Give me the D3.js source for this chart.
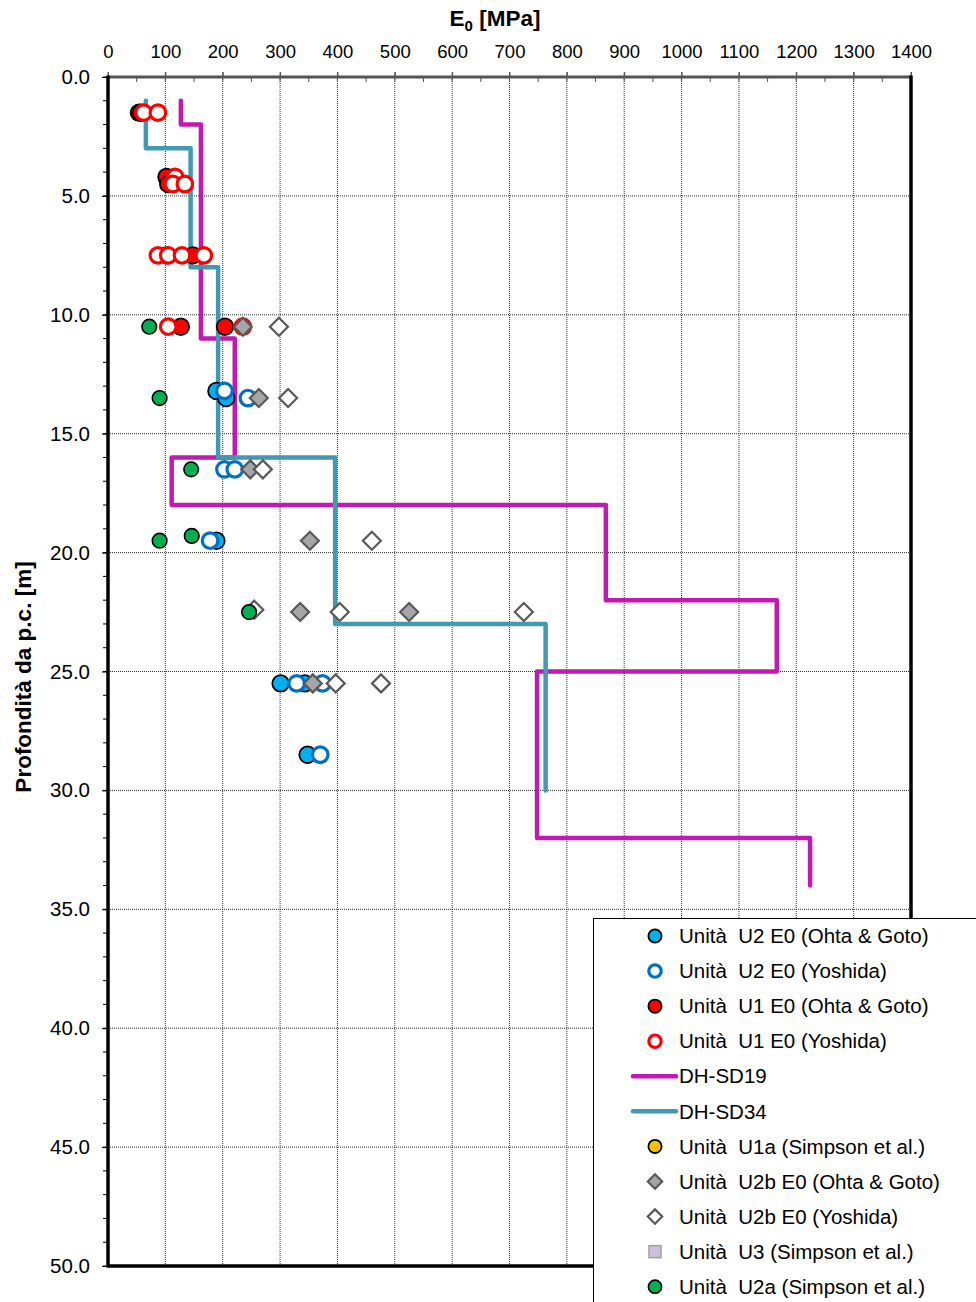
<!DOCTYPE html>
<html>
<head>
<meta charset="utf-8">
<script src="https://cdn.jsdelivr.net/npm/d3@7"></script>
<style>
  html, body { margin: 0; padding: 0; background: #fff; }
  svg { display: block; font-family: "Liberation Sans", Arial, sans-serif; }
</style>
</head>
<body>
<svg id="chart" width="976" height="1302"></svg>
<script>
// ---- data (E0 [MPa], depth [m]) ----
const xTicks = [0,100,200,300,400,500,600,700,800,900,1000,1100,1200,1300,1400];
const yTicks = [0,5,10,15,20,25,30,35,40,45,50];

const u2Ohta = [[189,13.2],[206,13.5],[189,19.5],[301,25.5],[343,25.5],[348,28.5]];
const u2Yoshida = [[203,13.2],[244,13.5],[203,16.5],[221,16.5],[178,19.5],[329,25.5],[374,25.5],[370,28.5]];
const u1Ohta = [[54,1.5],[58,1.5],[102,4.2],[105,4.5],[102,7.5],[148,7.5],[127,10.5],[204,10.5]];
const u1Yoshida = [[62,1.5],[87,1.5],[117,4.2],[113,4.5],[134,4.5],[87,7.5],[105,7.5],[129,7.5],[167,7.5],[105,10.5],[235,10.5]];
const dhSD19 = [[127,1],[127,2],[162,2],[162,11],[221,11],[221,16],[111,16],[111,18],[868,18],[868,22],[1166,22],[1166,25],[748,25],[748,32],[1224,32],[1224,34]];
const dhSD34 = [[66,1],[66,3],[144,3],[144,8],[192,8],[192,16],[396,16],[396,23],[763,23],[763,30]];
const u1a = [];
const u2bOhta = [[235,10.5],[263,13.5],[248,16.5],[352,19.5],[335,22.5],[525,22.5],[357,25.5]];
const u2bYoshida = [[298,10.5],[314,13.5],[270,16.5],[460,19.5],[255,22.4],[404,22.5],[725,22.5],[397,25.5],[476,25.5]];
const u3 = [];
const u2a = [[72,10.5],[90,13.5],[145,16.5],[90,19.5],[146,19.3],[246,22.5]];

const legendLabels = [
  "Unità  U2 E0 (Ohta & Goto)",
  "Unità  U2 E0 (Yoshida)",
  "Unità  U1 E0 (Ohta & Goto)",
  "Unità  U1 E0 (Yoshida)",
  "DH-SD19",
  "DH-SD34",
  "Unità  U1a (Simpson et al.)",
  "Unità  U2b E0 (Ohta & Goto)",
  "Unità  U2b E0 (Yoshida)",
  "Unità  U3 (Simpson et al.)",
  "Unità  U2a (Simpson et al.)"
];

// ---- styles ----
const styles = {
  u2Ohta:     {type:"circle", fill:"#00B0F0", stroke:"#000", sw:1.8, r:8.3, lr:6.6},
  u2Yoshida:  {type:"circle", fill:"#fff", stroke:"#0070C0", sw:3.2, r:7.8, lr:6.2},
  u1Ohta:     {type:"circle", fill:"#FF0000", stroke:"#000", sw:1.8, r:8.3, lr:6.6},
  u1Yoshida:  {type:"circle", fill:"#fff", stroke:"#FF0000", sw:3.2, r:7.8, lr:6.2},
  dhSD19:     {type:"line", stroke:"#C21AB0"},
  dhSD34:     {type:"line", stroke:"#4299B1"},
  u1a:        {type:"circle", fill:"#FFC000", stroke:"#000", sw:1.8, r:7.5, lr:6.6},
  u2bOhta:    {type:"diamond", fill:"#A6A6A6", stroke:"#595959", sw:2.2, r:9, lr:7.2},
  u2bYoshida: {type:"diamond", fill:"#fff", stroke:"#595959", sw:2.2, r:9, lr:7.2},
  u3:         {type:"square", fill:"#CCC0DA", stroke:"#A0A0A0", sw:1.5, r:6, lr:6},
  u2a:        {type:"circle", fill:"#00B050", stroke:"#000", sw:1.6, r:7.3, lr:6.6}
};
const seriesOrder = [
  ["u2Ohta",u2Ohta],["u2Yoshida",u2Yoshida],["u1Ohta",u1Ohta],["u1Yoshida",u1Yoshida],
  ["dhSD19",dhSD19],["dhSD34",dhSD34],["u1a",u1a],["u2bOhta",u2bOhta],
  ["u2bYoshida",u2bYoshida],["u3",u3],["u2a",u2a]
];

const svg = d3.select("#chart");
const x = d3.scaleLinear().domain([0,1400]).range([108,911]);
const y = d3.scaleLinear().domain([0,50]).range([77,1266]);

// grid
const grid = svg.append("g");
grid.selectAll("line.v").data(xTicks.filter(d=>d>0 && d<1400)).join("line")
  .attr("x1",d=>x(d)).attr("x2",d=>x(d)).attr("y1",y(0)).attr("y2",y(50))
  .attr("stroke","#333").attr("stroke-width",1).attr("stroke-dasharray","1,1");
grid.selectAll("line.h").data(yTicks.filter(d=>d>0 && d<50)).join("line")
  .attr("x1",x(0)).attr("x2",x(1400)).attr("y1",d=>y(d)).attr("y2",d=>y(d))
  .attr("stroke","#333").attr("stroke-width",1).attr("stroke-dasharray","1,1");

// top ticks (minor every 50)
const topMinor = d3.range(0,1401,50);
svg.append("g").selectAll("line").data(topMinor).join("line")
  .attr("x1",d=>x(d)).attr("x2",d=>x(d))
  .attr("y1",d=>d%100===0 ? y(0)-5 : y(0)).attr("y2",y(0)+5)
  .attr("stroke","#555").attr("stroke-width",1);

// left minor ticks every 1 m
svg.append("g").selectAll("line").data(d3.range(0,51,1)).join("line")
  .attr("x1",x(0)-5).attr("x2",x(0)).attr("y1",d=>y(d)).attr("y2",d=>y(d))
  .attr("stroke","#000").attr("stroke-width",1);

// x axis (top)
const xAxis = svg.append("g").attr("transform",`translate(0,${y(0)})`)
  .call(d3.axisTop(x).tickValues(xTicks).tickFormat(d3.format("d")).tickSize(5).tickPadding(14));
xAxis.select(".domain").remove();
xAxis.selectAll(".tick line").attr("stroke","#555");
xAxis.selectAll("text").attr("font-size",18.5).attr("fill","#000")
  .attr("font-family","'Liberation Sans', Arial, sans-serif");

// y axis
const yAxis = svg.append("g").attr("transform",`translate(${x(0)},0)`)
  .call(d3.axisLeft(y).tickValues(yTicks).tickFormat(d3.format(".1f")).tickSize(6).tickPadding(12));
yAxis.select(".domain").remove();
yAxis.selectAll(".tick line").attr("stroke","#000");
yAxis.selectAll("text").attr("font-size",20.5).attr("fill","#000")
  .attr("font-family","'Liberation Sans', Arial, sans-serif");

// frame
svg.append("line").attr("x1",x(0)).attr("x2",x(1400)).attr("y1",y(0)).attr("y2",y(0))
  .attr("stroke","#555").attr("stroke-width",3);
svg.append("line").attr("x1",x(0)).attr("x2",x(0)).attr("y1",y(0)-1.5).attr("y2",y(50)+1.5)
  .attr("stroke","#000").attr("stroke-width",3.5);
svg.append("line").attr("x1",x(1400)).attr("x2",x(1400)).attr("y1",y(0)-1.5).attr("y2",y(50)+1.5)
  .attr("stroke","#000").attr("stroke-width",3.5);
svg.append("line").attr("x1",x(0)).attr("x2",x(1400)).attr("y1",y(50)).attr("y2",y(50))
  .attr("stroke","#000").attr("stroke-width",3.5);

// titles
const xt = svg.append("text").attr("x",495).attr("y",26).attr("text-anchor","middle")
  .attr("font-weight","bold").attr("font-size",22.5).attr("fill","#000");
xt.append("tspan").text("E");
xt.append("tspan").text("0").attr("font-size",15).attr("dy",5);
xt.append("tspan").text(" [MPa]").attr("dy",-5);

svg.append("text").attr("transform","translate(31,677) rotate(-90)")
  .attr("text-anchor","middle").attr("font-weight","bold").attr("font-size",22.5)
  .attr("fill","#000").text("Profondità da p.c. [m]");

// marker drawing
function drawMarker(g, st, cx, cy, r) {
  if (st.type==="circle") {
    g.append("circle").attr("cx",cx).attr("cy",cy).attr("r",r)
      .attr("fill",st.fill).attr("stroke",st.stroke).attr("stroke-width",st.sw);
  } else if (st.type==="diamond") {
    g.append("path").attr("d",`M${cx},${cy-r}L${cx+r},${cy}L${cx},${cy+r}L${cx-r},${cy}Z`)
      .attr("fill",st.fill).attr("stroke",st.stroke).attr("stroke-width",st.sw);
  } else if (st.type==="square") {
    g.append("rect").attr("x",cx-r).attr("y",cy-r).attr("width",2*r).attr("height",2*r)
      .attr("fill",st.fill).attr("stroke",st.stroke).attr("stroke-width",st.sw);
  }
}

// lines first
const lineGen = d3.line().x(d=>x(d[0])).y(d=>y(d[1]));
const plot = svg.append("g");
seriesOrder.forEach(([k,data])=>{
  const st = styles[k];
  if (st.type==="line") {
    plot.append("path").datum(data).attr("d",lineGen).attr("fill","none")
      .attr("stroke",st.stroke).attr("stroke-width",4.5)
      .attr("stroke-linejoin","round").attr("stroke-linecap","round");
  }
});
seriesOrder.forEach(([k,data])=>{
  const st = styles[k];
  if (st.type!=="line") {
    const g = plot.append("g");
    data.forEach(d=>drawMarker(g, st, x(d[0]), y(d[1]), st.r));
  }
});

// legend
const lg = svg.append("g");
lg.append("rect").attr("x",593.5).attr("y",918.5).attr("width",420).attr("height",420)
  .attr("fill","#fff").attr("stroke","#000").attr("stroke-width",1);
seriesOrder.forEach(([k],i)=>{
  const st = styles[k];
  const cy = 936 + i*35.07;
  if (st.type==="line") {
    lg.append("line").attr("x1",633).attr("x2",676).attr("y1",cy).attr("y2",cy)
      .attr("stroke",st.stroke).attr("stroke-width",4.5).attr("stroke-linecap","round");
  } else {
    drawMarker(lg, st, 655, cy, st.lr);
  }
  lg.append("text").attr("x",679).attr("y",cy).attr("dy","0.35em")
    .attr("font-size",20.5).attr("fill","#000").style("white-space","pre")
    .text(legendLabels[i]);
});
</script>
</body>
</html>
